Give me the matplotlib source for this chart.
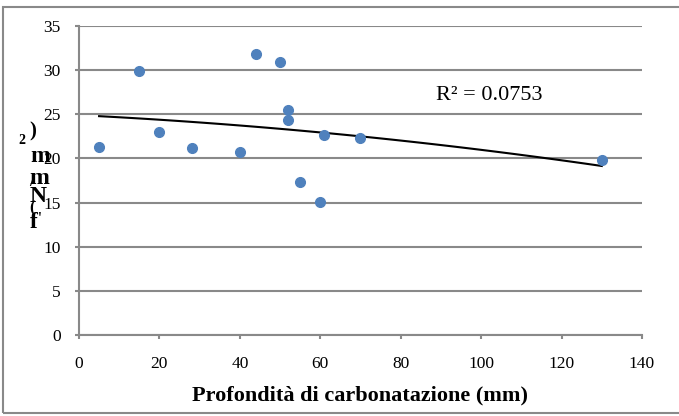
import numpy as np
import matplotlib
matplotlib.use("Agg")
import matplotlib.pyplot as plt
from matplotlib.patches import Rectangle

plt.rcParams['font.family'] = ['Liberation Serif', 'DejaVu Serif']

# profondita di carbonatazione (mm) vs resistenza
depth = [5, 15, 20, 28, 40, 44, 50, 52, 52, 55, 60, 61, 70, 130]
fc = [21.3, 29.9, 23.0, 21.2, 20.7, 31.8, 30.9, 25.5, 24.3, 17.3, 15.1, 22.6, 22.3, 19.8]
r2_label = "R\u00b2 = 0.0753"
xticks = [0, 20, 40, 60, 80, 100, 120, 140]
yticks = [0, 5, 10, 15, 20, 25, 30, 35]

gray = '#898989'

fig = plt.figure(figsize=(6.79, 4.16), dpi=100)
ax = fig.add_axes([0.1163, 0.1947, 0.8292, 0.7428])

ax.set_xlim(0, 140)
ax.set_ylim(0, 35)
ax.set_xticks(xticks)
ax.set_yticks(yticks)
ax.grid(axis='y', color=gray, linewidth=1.5)
ax.set_axisbelow(True)

for s in ['top', 'right']:
    ax.spines[s].set_visible(False)
for s in ['left', 'bottom']:
    ax.spines[s].set_color(gray)
    ax.spines[s].set_linewidth(1.5)
ax.tick_params(color=gray, width=1.5, length=3, labelsize=12.5)
ax.tick_params(axis='x', pad=12)
ax.tick_params(axis='y', pad=10)

# trend line (polinomiale 2 ordine)
coef = np.polyfit(depth, fc, 2)
xx = np.linspace(min(depth), max(depth), 100)
ax.plot(xx, np.polyval(coef, xx), color='black', linewidth=1.5, zorder=2)

ax.plot(depth, fc, 'o', color='#4F81BD', markersize=7, zorder=3, clip_on=False)

ax.text(102, 27.1, r2_label, fontsize=16, ha='center', va='center')

ax.set_xlabel("Profondit\u00e0 di carbonatazione (mm)", fontsize=16, fontweight='bold', labelpad=10)

# etichetta asse y (resa "impilata" come nell'originale)
ylab = [(")", 131, 33, 15), ("2", 141, 22, 10), ("m", 157, 40, 17), ("m", 178, 39, 17),
        ("/", 182, 31, 12), ("N", 197, 38, 17), ("(", 208, 32, 12), ("f", 223, 34, 17),
        ("'", 219, 40, 10)]
for t, yp, xp, fs in ylab:
    fig.text(xp / 679, 1 - yp / 416, t, fontsize=fs, fontweight='bold', ha='center', va='center')

fig.patches.append(Rectangle((3 / 679, 3 / 416), 1.2, 406 / 416, transform=fig.transFigure,
                             fill=False, edgecolor=gray, linewidth=1.5))

fig.savefig("out.png", dpi=100)
